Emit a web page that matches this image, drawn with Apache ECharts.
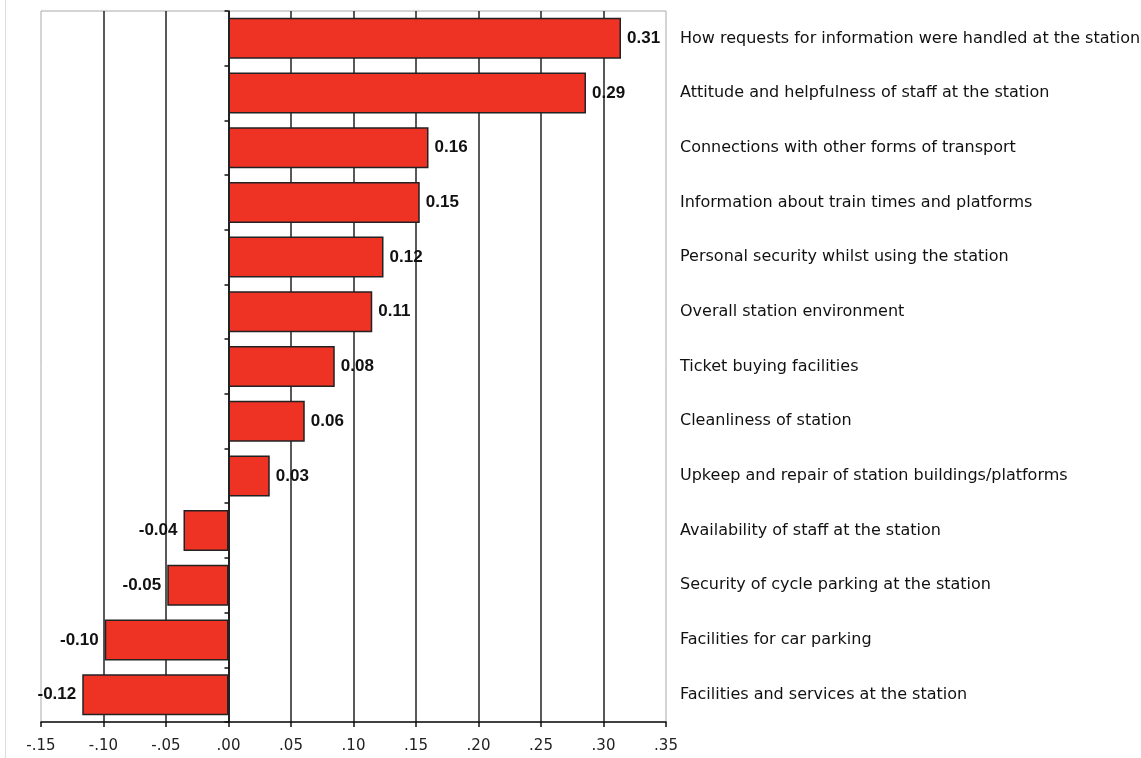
<!DOCTYPE html>
<html>
<head>
<meta charset="utf-8">
<script src="https://cdn.jsdelivr.net/npm/echarts@6/dist/echarts.min.js"></script>
<style>
    html, body {margin: 0; padding: 0; background: #fff;}
    #chart {width: 1141px; height: 758px;}
</style>
</head>
<body>
<div id="chart"></div>
<script>
    const categories = [
        'How requests for information were handled at the station',
        'Attitude and helpfulness of staff at the station',
        'Connections with other forms of transport',
        'Information about train times and platforms',
        'Personal security whilst using the station',
        'Overall station environment',
        'Ticket buying facilities',
        'Cleanliness of station',
        'Upkeep and repair of station buildings/platforms',
        'Availability of staff at the station',
        'Security of cycle parking at the station',
        'Facilities for car parking',
        'Facilities and services at the station'
    ]
    const values = [0.314, 0.286, 0.160, 0.153, 0.124, 0.115, 0.085, 0.061, 0.033, -0.036, -0.049, -0.099, -0.117]
    const valueLabels = ['0.31', '0.29', '0.16', '0.15', '0.12', '0.11', '0.08', '0.06', '0.03', '-0.04', '-0.05', '-0.10', '-0.12']
    const tickLabels = ['-.15', '-.10', '-.05', '.00', '.05', '.10', '.15', '.20', '.25', '.30', '.35']
    const axisMin = -0.15
    const axisStep = 0.05

    const myChart = echarts.init(document.getElementById('chart'))
    myChart.setOption({
        animation: false,
        textStyle: {fontFamily: '"DejaVu Sans", sans-serif'},
        // faint scan edge on the far left
        graphic: [{
            type: 'line',
            shape: {x1: 5.5, y1: 0, x2: 5.5, y2: 758},
            style: {stroke: '#ddd', lineWidth: 1}
        }],
        grid: {
            left: 41, right: 475, top: 11, bottom: 36,
            outerBoundsMode: 'none',
            show: true, borderColor: '#aaa', borderWidth: 1
        },
        xAxis: {
            type: 'value',
            min: axisMin,
            max: 0.35,
            interval: axisStep,
            axisLine: {show: true, onZero: false, lineStyle: {color: '#111', width: 1.5}},
            axisTick: {show: true, length: 5, lineStyle: {color: '#111', width: 1.5}},
            axisLabel: {
                fontSize: 15,
                color: '#222',
                margin: 17,
                formatter(val) {
                    return tickLabels[Math.round((val - axisMin) / axisStep)]
                }
            },
            splitLine: {
                show: true,
                showMinLine: false,
                showMaxLine: false,
                lineStyle: {color: '#222', width: 1.5}
            }
        },
        yAxis: [{
            type: 'category',
            data: categories,
            inverse: true,
            position: 'left',
            axisLine: {show: true, onZero: true, lineStyle: {color: '#111', width: 1.5}},
            axisTick: {show: true, length: 4, lineStyle: {color: '#111', width: 1.5}},
            axisLabel: {show: false},
            splitLine: {show: false}
        }, {
            type: 'category',
            data: categories,
            inverse: true,
            position: 'right',
            axisLine: {show: false},
            axisTick: {show: false},
            axisLabel: {
                interval: 0,
                align: 'left',
                margin: 14,
                fontSize: 16,
                color: '#111'
            },
            splitLine: {show: false}
        }],
        series: [{
            type: 'bar',
            yAxisIndex: 0,
            barWidth: 41,
            itemStyle: {color: '#EE3224', borderColor: '#222', borderWidth: 1.5},
            label: {
                show: true,
                distance: 6,
                fontSize: 17,
                fontWeight: 'bold',
                fontFamily: '"Liberation Sans", Arial, sans-serif',
                color: '#111',
                formatter: p => valueLabels[p.dataIndex]
            },
            data: values.map(v => ({
                value: v,
                label: {position: v < 0 ? 'left' : 'right'}
            }))
        }]
    })
</script>
</body>
</html>
